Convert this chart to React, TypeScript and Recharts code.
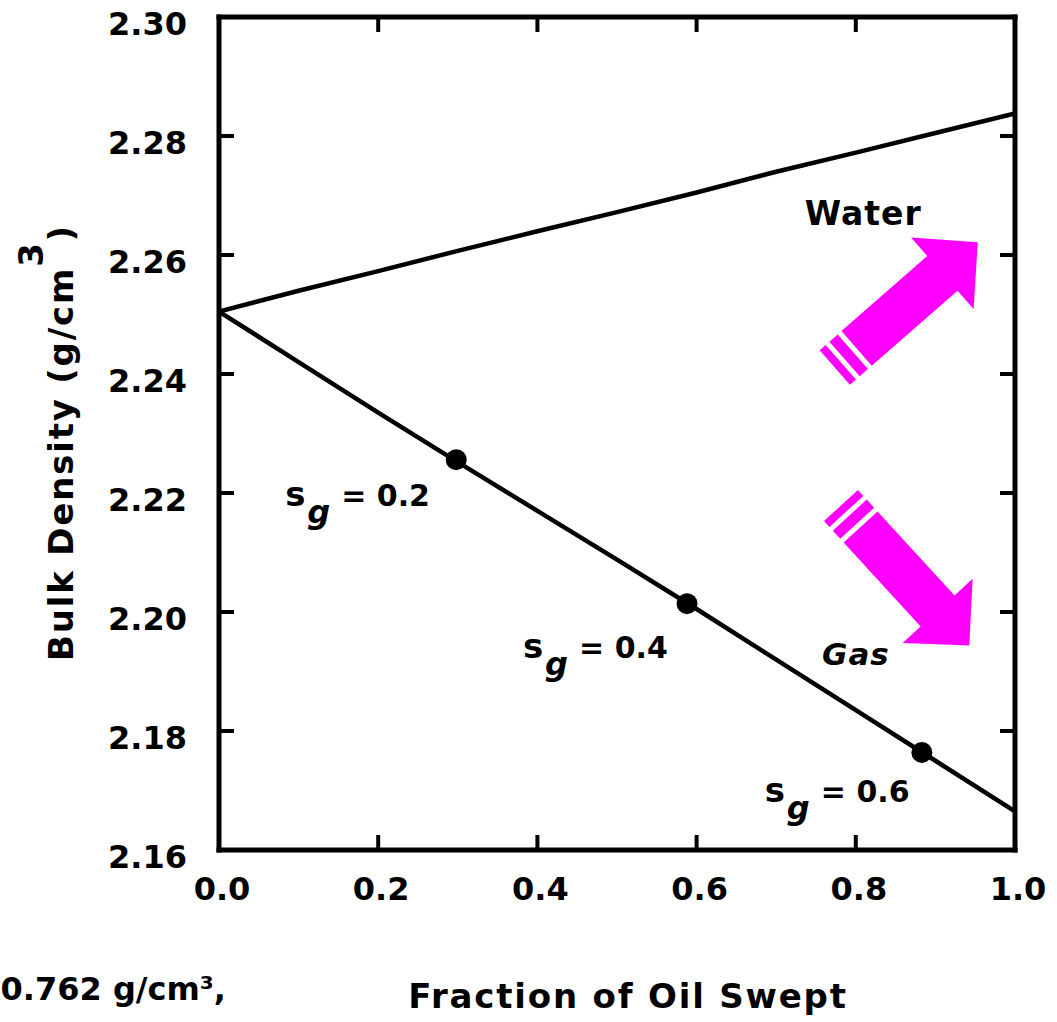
import React from 'react';
import { ComposedChart, Line, Scatter, XAxis, YAxis, ReferenceDot, Label } from 'recharts';

// Fraction of oil swept (x) and the resulting bulk density for each displacing fluid
const fractionSwept = [0, 0.1, 0.2, 0.3, 0.4, 0.5, 0.6, 0.7, 0.8, 0.9, 1.0];
const waterDensity = [2.2505, 2.254, 2.2573, 2.2607, 2.264, 2.2672, 2.2705, 2.274, 2.2772, 2.2805, 2.2838];
const gasDensity = [2.2505, 2.242, 2.2335, 2.2252, 2.217, 2.2088, 2.2005, 2.192, 2.1835, 2.175, 2.1665];

// Marked gas-saturation points on the gas curve
const markerFraction = [0.298, 0.588, 0.883];
const markerDensity = [2.2256, 2.2014, 2.1764];
const markerSaturation = ['0.2', '0.4', '0.6'];

// Axis ticks
const xTicks = [0, 0.2, 0.4, 0.6, 0.8, 1.0];
const yTicks = [2.16, 2.18, 2.2, 2.22, 2.24, 2.26, 2.28, 2.3];

// Fluid annotations and direction arrows
const fluidNames = ['Water', 'Gas'];
const fluidLabelFraction = [0.736, 0.7575];
const fluidLabelDensity = [2.265, 2.1911];
const arrowFraction = [0.801, 0.806];
const arrowDensity = [2.2443, 2.2143];

// Layout of the drawn decorations (degrees / pixel offsets)
const arrowAngle = [-41.2, 47.5];
const saturationLabelOffset = [
  { dx: -171, dy: 46 },
  { dx: -164, dy: 54 },
  { dx: -157, dy: 50 },
];

const rows = fractionSwept.map((f, i) => ({ fraction: f, water: waterDensity[i], gas: gasDensity[i] }));
const markers = markerFraction.map((f, i) => ({ fraction: f, density: markerDensity[i], idx: i }));

const FONT = "'DejaVu Sans', sans-serif";
const INK = '#000';
const MAGENTA = '#FF00FF';

const YTick = (props: any) => {
  const { x, y, payload } = props;
  return (
    <text x={x} y={y + 6} dy="0.36em" textAnchor="end" fontFamily={FONT} fontWeight="bold" fontSize={32} fill={INK}>
      {Number(payload.value).toFixed(2)}
    </text>
  );
};

const XTick = (props: any) => {
  const { x, y, payload } = props;
  return (
    <text x={x + 3} y={y} dy="0.36em" textAnchor="middle" fontFamily={FONT} fontWeight="bold" fontSize={32} fill={INK}>
      {Number(payload.value).toFixed(1)}
    </text>
  );
};

const NoTick = () => <g />;

const YTitle = (props: any) => {
  const vb = props.viewBox || { x: 0, y: 17, width: 219, height: 833 };
  const bx = vb.x + 73;
  const by = vb.y + vb.height / 2 + 9;
  return (
    <text
      x={bx}
      y={by}
      transform={`rotate(-90, ${bx}, ${by})`}
      textAnchor="middle"
      fontFamily={FONT}
      fontWeight="bold"
      fontSize={34}
      letterSpacing={1.8}
      fill={INK}
    >
      <tspan>Bulk Density (g/cm</tspan>
      <tspan dy={-30}>3</tspan>
      <tspan dy={30}>)</tspan>
    </text>
  );
};

const XTitle = (props: any) => {
  const vb = props.viewBox || { x: 219, y: 850, width: 796, height: 172 };
  return (
    <g>
      <text
        x={vb.x + vb.width / 2 + 11}
        y={vb.y + 158}
        textAnchor="middle"
        fontFamily={FONT}
        fontWeight="bold"
        fontSize={34}
        letterSpacing={1.8}
        fill={INK}
      >
        Fraction of Oil Swept
      </text>
      <text x={vb.x + 7} y={vb.y + 150} textAnchor="end" fontFamily={FONT} fontWeight="bold" fontSize={32} fill={INK}>
        0.762 g/cm³,
      </text>
    </g>
  );
};

const Arrow = ({ cx, cy, angle }: { cx: number; cy: number; angle: number }) => (
  <g transform={`translate(${cx},${cy}) rotate(${angle})`} fill={MAGENTA}>
    <polygon points="0,-23 114,-23 114,-47.5 161,0 114,47.5 114,23 0,23" />
    <polygon points="-16,-23 -5,-23 -5,23 -16,23" />
    <polygon points="-29,-23 -21,-23 -21,23 -29,23" />
  </g>
);

const MarkerWithLabel = (props: any) => {
  const { cx, cy, payload } = props;
  const i = payload.idx;
  const off = saturationLabelOffset[i];
  const sx = cx + off.dx;
  const sy = cy + off.dy;
  return (
    <g>
      <circle cx={cx} cy={cy} r={10.5} fill={INK} />
      <g fontFamily={FONT} fontWeight="bold" fill={INK}>
        <text x={sx} y={sy} fontSize={34}>s</text>
        <text x={sx + 22} y={sy + 17} fontSize={32} fontStyle="italic">g</text>
        <text x={sx + 56} y={sy} fontSize={30}>{`= ${markerSaturation[i]}`}</text>
      </g>
    </g>
  );
};

const axisLineStyle = { stroke: INK, strokeWidth: 5, strokeLinecap: 'square' as const };
const tickLineStyle = { stroke: INK, strokeWidth: 4 };

export default function App() {
  return (
    <div style={{ position: 'absolute', left: 0, top: 0, background: '#fff' }}>
      <ComposedChart width={1057} height={1022} data={rows} margin={{ top: 15, right: 40, bottom: 0, left: 0 }}>
        <XAxis
          dataKey="fraction"
          type="number"
          domain={[0, 1]}
          allowDataOverflow
          ticks={xTicks}
          height={172}
          axisLine={axisLineStyle}
          tickLine={tickLineStyle}
          tickSize={-15}
          tickMargin={53}
          tick={XTick}
          interval={0}
        >
          <Label content={XTitle} />
        </XAxis>
        <XAxis
          xAxisId="top"
          orientation="top"
          dataKey="fraction"
          type="number"
          domain={[0, 1]}
          allowDataOverflow
          ticks={xTicks}
          height={2}
          axisLine={axisLineStyle}
          tickLine={tickLineStyle}
          tickSize={-15}
          tick={NoTick}
          interval={0}
        />
        <YAxis
          type="number"
          domain={[2.16, 2.3]}
          allowDataOverflow
          ticks={yTicks}
          width={219}
          axisLine={axisLineStyle}
          tickLine={tickLineStyle}
          tickSize={-15}
          tickMargin={47}
          tick={YTick}
          interval={0}
        >
          <Label content={YTitle} />
        </YAxis>
        <YAxis
          yAxisId="right"
          orientation="right"
          type="number"
          domain={[2.16, 2.3]}
          allowDataOverflow
          ticks={yTicks}
          width={2}
          axisLine={axisLineStyle}
          tickLine={tickLineStyle}
          tickSize={-15}
          tick={NoTick}
          interval={0}
        />

        <Line type="linear" dataKey="water" stroke={INK} strokeWidth={4.5} dot={false} isAnimationActive={false} />
        <Line type="linear" dataKey="gas" stroke={INK} strokeWidth={4.5} dot={false} isAnimationActive={false} />
        <Scatter data={markers} dataKey="density" shape={MarkerWithLabel} isAnimationActive={false} />

        {fluidNames.map((name, i) => (
          <ReferenceDot
            key={name}
            x={fluidLabelFraction[i]}
            y={fluidLabelDensity[i]}
            r={1}
            shape={(p: any) => (
              <text
                x={p.cx}
                y={p.cy}
                fontFamily={FONT}
                fontWeight="bold"
                fontStyle={name === 'Gas' ? 'italic' : 'normal'}
                fontSize={name === 'Gas' ? 31 : 33}
                letterSpacing={1}
                fill={INK}
              >
                {name}
              </text>
            )}
          />
        ))}
        {arrowFraction.map((f, i) => (
          <ReferenceDot
            key={`arrow-${i}`}
            x={f}
            y={arrowDensity[i]}
            r={1}
            shape={(p: any) => <Arrow cx={p.cx} cy={p.cy} angle={arrowAngle[i]} />}
          />
        ))}
      </ComposedChart>
    </div>
  );
}
